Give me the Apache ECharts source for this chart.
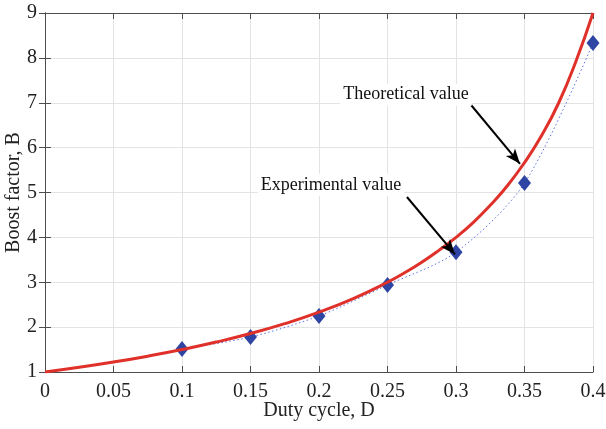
<!DOCTYPE html>
<html>
<head>
<meta charset="utf-8">
<script src="https://cdn.jsdelivr.net/npm/echarts@6/dist/echarts.min.js"></script>
<style>
  html, body { margin: 0; padding: 0; background: #fff; }
  #main { width: 606px; height: 429px; }
</style>
</head>
<body>
<div id="main"></div>
<script>
// theoretical curve
var dutyTheory = [0, 0.025, 0.05, 0.075, 0.1, 0.125, 0.15, 0.175, 0.2, 0.225, 0.25, 0.2625, 0.275, 0.2875, 0.3, 0.3125, 0.325, 0.3375, 0.35, 0.3625, 0.375, 0.3875, 0.4];
var boostTheory = [1, 1.105, 1.222, 1.353, 1.5, 1.667, 1.857, 2.077, 2.333, 2.636, 3, 3.21, 3.444, 3.71, 4, 4.33, 4.714, 5.15, 5.667, 6.27, 7, 7.92, 9];

// measured points
var dutyExp = [0.1, 0.15, 0.2, 0.25, 0.3, 0.35, 0.4];
var boostExp = [1.51, 1.78, 2.25, 2.94, 3.67, 5.21, 8.33];

var xTicks = [0, 0.05, 0.1, 0.15, 0.2, 0.25, 0.3, 0.35, 0.4];
var yTicks = [1, 2, 3, 4, 5, 6, 7, 8, 9];

var serif = '"Liberation Serif", "DejaVu Serif", serif';
var axisColor = '#4d4d4d';

function pairs(xs, ys) {
    return xs.map(function (x, i) { return [x, ys[i]]; });
}

var chart = echarts.init(document.getElementById('main'));

var option = {
    animation: false,
    grid: { left: 45, right: 13, top: 13, bottom: 57, outerBoundsMode: 'none', containLabel: false },
    xAxis: [{
        type: 'value',
        min: xTicks[0], max: xTicks[xTicks.length - 1], interval: 0.05,
        name: 'Duty cycle, D',
        nameLocation: 'middle',
        nameMoveOverlap: false,
        nameGap: 29,
        nameTextStyle: { fontFamily: serif, fontSize: 20, color: '#222' },
        axisLine: { lineStyle: { color: axisColor, width: 1 } },
        axisTick: { inside: true, length: 6, lineStyle: { color: axisColor } },
        axisLabel: {
            fontFamily: serif, fontSize: 20, color: '#222', margin: 10,
            formatter: function (v) { return String(+v.toFixed(2)); }
        },
        splitLine: { show: true, lineStyle: { color: '#e3e3e3', width: 1 } }
    }, {
        type: 'value', position: 'top',
        min: xTicks[0], max: xTicks[xTicks.length - 1], interval: 0.05,
        axisLine: { show: true, lineStyle: { color: axisColor, width: 1 } },
        axisTick: { show: true, inside: true, length: 6, lineStyle: { color: axisColor } },
        axisLabel: { show: false },
        splitLine: { show: false }
    }],
    yAxis: [{
        type: 'value',
        min: yTicks[0], max: yTicks[yTicks.length - 1], interval: 1,
        name: 'Boost factor, B',
        nameLocation: 'middle',
        nameMoveOverlap: false,
        nameGap: 21,
        nameTextStyle: { fontFamily: serif, fontSize: 20, color: '#222' },
        axisLine: { show: true, lineStyle: { color: axisColor, width: 1 } },
        axisTick: { show: true, inside: true, length: 6, lineStyle: { color: axisColor } },
        axisLabel: { fontFamily: serif, fontSize: 20, color: '#222', margin: 8 },
        splitLine: { show: true, lineStyle: { color: '#e3e3e3', width: 1 } }
    }, {
        type: 'value', position: 'right',
        min: yTicks[0], max: yTicks[yTicks.length - 1], interval: 1,
        axisLine: { show: true, lineStyle: { color: axisColor, width: 1 } },
        axisTick: { show: true, inside: true, length: 6, lineStyle: { color: axisColor } },
        axisLabel: { show: false },
        splitLine: { show: false }
    }],
    series: [{
        name: 'Experimental value',
        type: 'line',
        data: pairs(dutyExp, boostExp),
        smooth: 0.3,
        symbol: 'diamond',
        symbolSize: [13, 16],
        itemStyle: { color: '#2f45a3' },
        lineStyle: { color: '#5b6fe0', width: 1, type: [1.5, 2.5] },
        z: 3
    }, {
        name: 'Theoretical value',
        type: 'line',
        data: pairs(dutyTheory, boostTheory),
        smooth: 0.5,
        showSymbol: false,
        lineStyle: { color: '#e0302a', width: 3 },
        z: 4,
        markLine: {
            silent: true,
            symbol: ['none', 'arrow'],
            symbolSize: [9, 15],
            label: { show: false },
            lineStyle: { color: '#000', width: 2, type: 'solid' },
            data: [
                [{ coord: [0.311, 6.95] }, { coord: [0.3467, 5.64] }],
                [{ coord: [0.2642, 4.9] }, { coord: [0.2993, 3.62] }]
            ]
        }
    }]
};

chart.setOption(option);

// annotation labels with white boxes, placed in data space
var labels = [
    { text: 'Theoretical value', at: [0.2635, 7.18] },
    { text: 'Experimental value', at: [0.2088, 5.17] }
];
chart.setOption({
    graphic: labels.map(function (l) {
        var p = chart.convertToPixel({ gridIndex: 0 }, l.at);
        return {
            type: 'text',
            x: p[0], y: p[1],
            z: 10,
            style: {
                text: l.text,
                font: '18px ' + serif,
                fill: '#111',
                align: 'center',
                verticalAlign: 'middle',
                backgroundColor: '#fff',
                padding: [2, 3]
            }
        };
    })
});
</script>
</body>
</html>
